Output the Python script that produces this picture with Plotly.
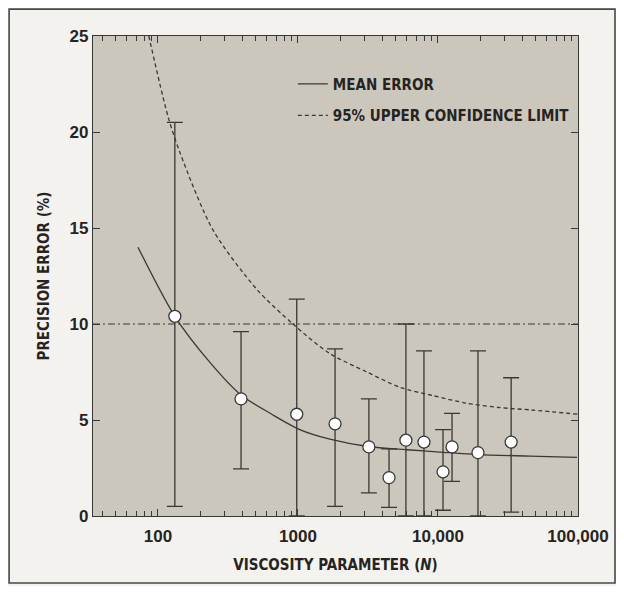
import plotly.graph_objects as go

# ---- data ----
visc_n = [132, 392, 980, 1840, 3210, 4470, 5900, 7940, 10860, 12600, 19300, 33300]
err_mean = [10.4, 6.1, 5.3, 4.8, 3.6, 2.0, 3.95, 3.85, 2.3, 3.6, 3.3, 3.85]
err_upper = [20.5, 9.6, 11.3, 8.7, 6.1, 3.5, 10.0, 8.6, 4.5, 5.35, 8.6, 7.2]
err_lower = [0.5, 2.45, 0.0, 0.5, 1.2, 0.45, 0.0, 0.0, 0.3, 1.8, 0.0, 0.2]

curve_n = [72, 132, 235, 392, 650, 1030, 1690, 3160, 6010, 10330, 19300, 45400, 98400]
curve_mean = [14.0, 10.4, 8.0, 6.3, 5.3, 4.5, 4.0, 3.62, 3.45, 3.33, 3.2, 3.12, 3.05]

ucl_n = [86, 118, 144, 247, 509, 920, 1690, 3110, 5360, 9210, 15850, 27300, 46800, 100000]
ucl_val = [25.0, 20.8, 18.9, 14.9, 11.8, 10.0, 8.46, 7.5, 6.7, 6.27, 5.88, 5.65, 5.52, 5.3]

threshold = 10

x_tickvals = [100, 1000, 10000, 100000]
x_ticktext = ["100", "1000", "10,000", "100,000"]
y_tickvals = [0, 5, 10, 15, 20, 25]

INK = "#3a3835"
TXT = "#262422"
NARROW = "DejaVu Sans Condensed, Liberation Sans Narrow, sans-serif"
BOLD = "Liberation Sans, Arial, sans-serif"

fig = go.Figure()

fig.add_trace(go.Scatter(
    x=curve_n, y=curve_mean, mode="lines", name="MEAN ERROR",
    line=dict(color=INK, width=1.3, shape="spline", smoothing=0.8),
    legendgroup="a",
))
fig.add_trace(go.Scatter(
    x=ucl_n, y=ucl_val, mode="lines", name="95% UPPER CONFIDENCE LIMIT",
    line=dict(color=INK, width=1.3, dash="4px,3px", shape="spline", smoothing=0.8),
    legendgroup="b",
))

fig.add_hline(y=threshold, line=dict(color=INK, width=1, dash="7px,3px,2px,3px"))

plus = [u - m for u, m in zip(err_upper, err_mean)]
minus = [m - l for m, l in zip(err_mean, err_lower)]
fig.add_trace(go.Scatter(
    x=visc_n, y=err_mean, mode="markers", showlegend=False,
    marker=dict(size=12, color="white", line=dict(color=INK, width=1.3)),
    error_y=dict(type="data", symmetric=False, array=plus, arrayminus=minus,
                 color=INK, thickness=1.3, width=8),
))

# scan frame
fig.add_shape(type="rect", xref="paper", yref="paper",
              x0=-0.173, x1=1.0763, y0=-0.1396, y1=1.056,
              line=dict(color="#4a4845", width=1.6), layer="below")

fig.update_layout(
    width=608, height=578,
    margin=dict(l=85, r=38, t=28, b=70, autoexpand=False),
    paper_bgcolor="rgb(244,242,238)",
    plot_bgcolor="rgb(204,199,189)",
    showlegend=True,
    legend=dict(x=0.412, y=0.934, xanchor="left", yanchor="top",
                bgcolor="rgba(0,0,0,0)", tracegroupgap=9,
                font=dict(family=NARROW, size=15, color=TXT, weight="bold"),
                itemwidth=30),
    xaxis=dict(
        type="log", range=[1.536, 5.0], automargin=False,
        tickvals=x_tickvals, ticktext=x_ticktext,
        ticks="inside", ticklen=7, tickcolor=INK, tickwidth=1.2,
        ticklabelstandoff=4,
        showgrid=False, zeroline=False,
        showline=True, linecolor=INK, linewidth=1.4, mirror="ticks",
        minor=dict(ticks="inside", ticklen=5, tickcolor=INK, dtick="D1", showgrid=False),
        tickfont=dict(family=BOLD, size=17, color=TXT, weight="bold"),
        title=dict(text="VISCOSITY PARAMETER (<i>N</i>)", standoff=14,
                   font=dict(family=NARROW, size=15, color=TXT, weight="bold")),
    ),
    yaxis=dict(
        range=[0, 25], tickvals=y_tickvals, automargin=False,
        ticks="inside", ticklen=7, tickcolor=INK, tickwidth=1.2,
        showgrid=False, zeroline=False,
        showline=True, linecolor=INK, linewidth=1.4, mirror="ticks",
        tickfont=dict(family=BOLD, size=17, color=TXT, weight="bold"),
        title=dict(text="PRECISION ERROR (%)", standoff=16,
                   font=dict(family=NARROW, size=15, color=TXT, weight="bold")),
    ),
)

fig.write_html("out.html")
